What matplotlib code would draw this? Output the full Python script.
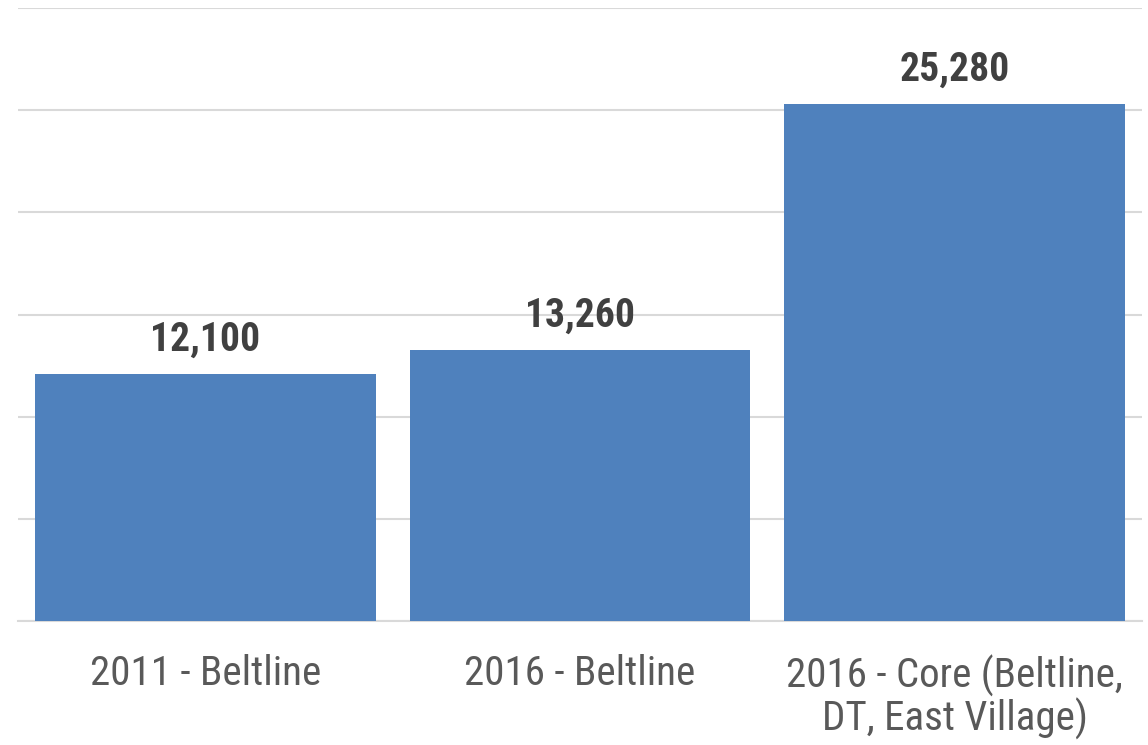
import matplotlib.pyplot as plt
from matplotlib import font_manager

# narrow font if one is there, otherwise a plain sans at a smaller size
fonts = font_manager.fontManager.ttflist
narrow = [f for f in fonts if ('Narrow' in f.fname or 'Condensed' in f.fname)
          and 'Oblique' not in f.fname and 'Italic' not in f.fname]
family = None
for pref in ['LiberationSansNarrow', 'RobotoCondensed', 'OpenSans_Condensed', 'OpenSansCondensed',
             'DejaVuSansCondensed', 'Condensed', 'Narrow']:
    hits = [f for f in narrow if pref in f.fname.replace('-', '')]
    if hits:
        family = hits[0].name
        break

if family is not None:
    plt.rcParams['font.family'] = [family, 'DejaVu Sans']
    plt.rcParams['font.stretch'] = 'condensed'
    tick_size, label_size = 29.5, 28.5
else:
    plt.rcParams['font.family'] = ['Liberation Sans', 'DejaVu Sans']
    tick_size, label_size = 26, 26

categories = ['2011 - Beltline', '2016 - Beltline', '2016 - Core (Beltline,\nDT, East Village)']
values = [12100, 13260, 25280]

fig = plt.figure(figsize=(11.48, 7.45), dpi=100)
ax = fig.add_axes([18 / 1148, 1 - 621 / 745, 1124 / 1148, 613 / 745])

x = range(len(categories))
bars = ax.bar(x, values, width=0.91, color='#4F81BD', zorder=3)

ax.set_xlim(-0.5, 2.5)
ax.set_ylim(0, 30000)
ax.set_yticks(range(0, 30001, 5000))
ax.yaxis.grid(True, color='#D9D9D9', linewidth=1.5, zorder=0)
ax.tick_params(axis='y', left=False, labelleft=False)
ax.tick_params(axis='x', length=0, pad=24, labelsize=tick_size, labelcolor='#595959')
ax.set_xticks(list(x))
ax.set_xticklabels(categories, linespacing=1.03)
for s in ['top', 'right', 'left']:
    ax.spines[s].set_visible(False)
ax.spines['bottom'].set_color('#D9D9D9')
ax.spines['bottom'].set_linewidth(1.5)

for b, v in zip(bars, values):
    ax.annotate(f'{v:,}', (b.get_x() + b.get_width() / 2, v), xytext=(0, 11),
                textcoords='offset points', ha='center', va='bottom',
                fontsize=label_size, fontweight='bold', color='#404040')

fig.savefig('out.png', dpi=100)
